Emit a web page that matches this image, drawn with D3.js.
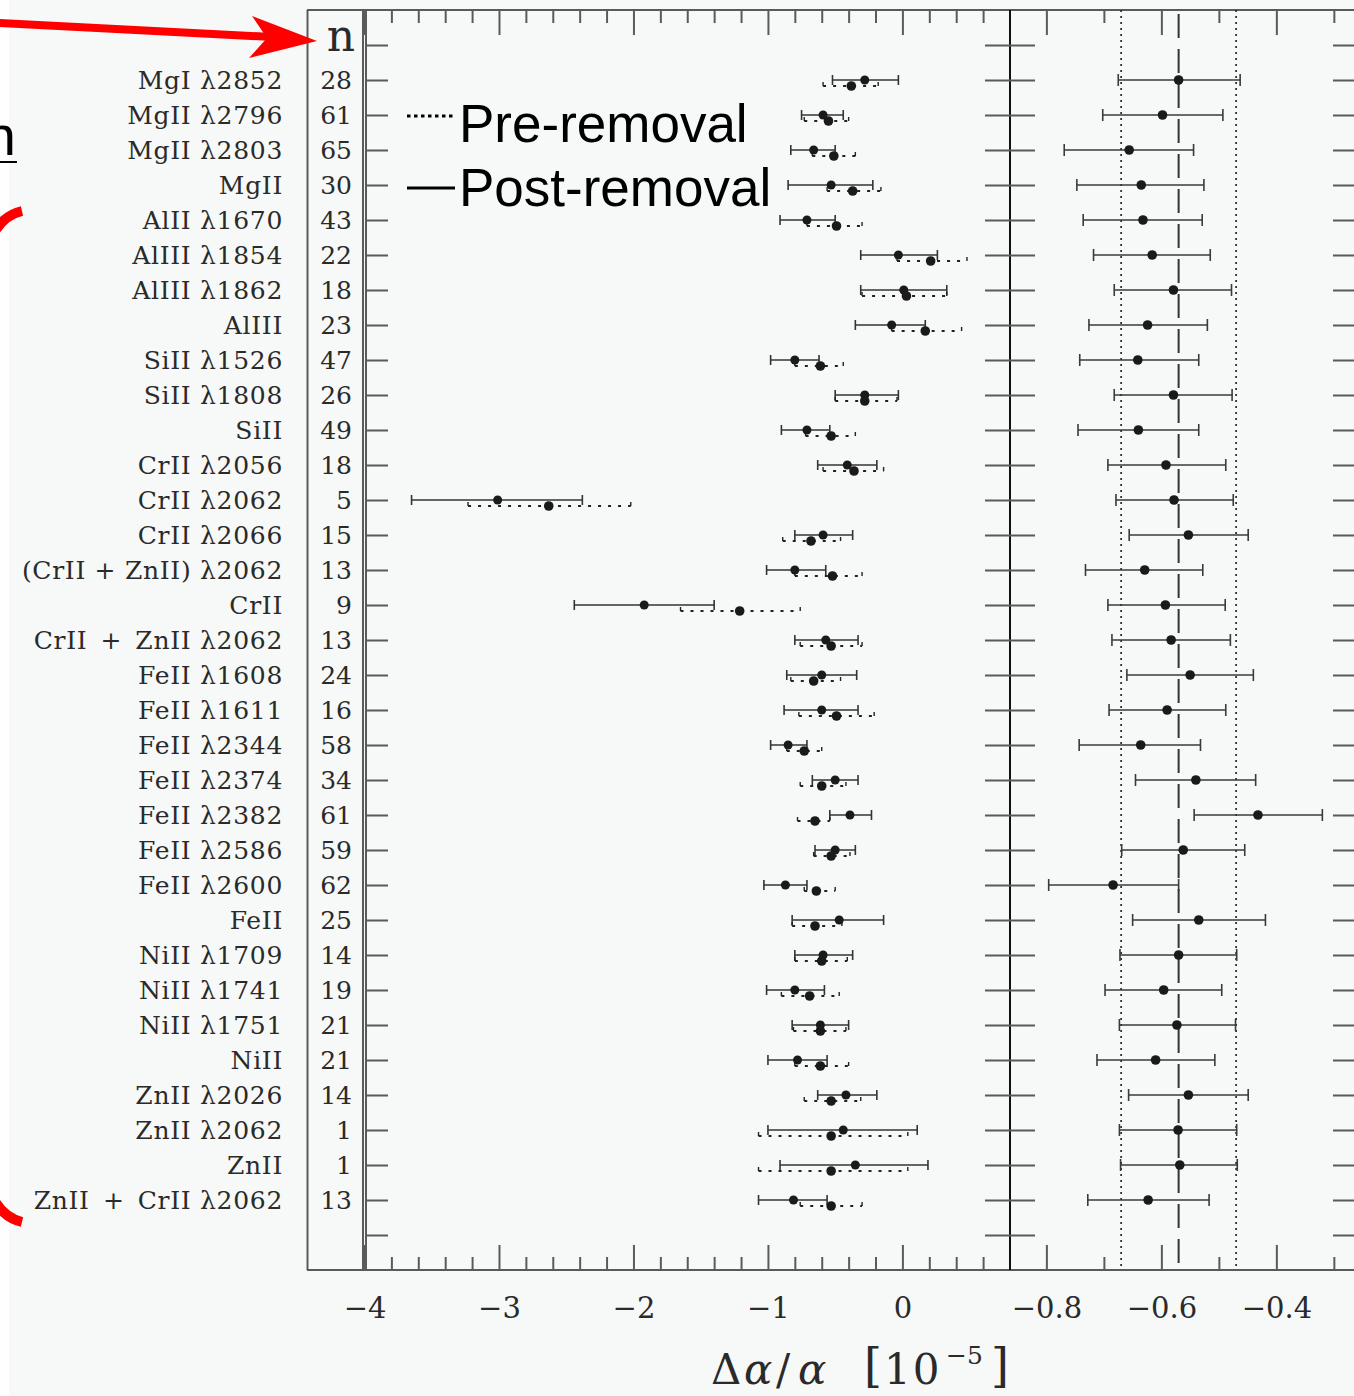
<!DOCTYPE html>
<html>
<head>
<meta charset="utf-8">
<script src="https://cdn.jsdelivr.net/npm/d3@7"></script>
<style>
  html, body { margin: 0; padding: 0; background: #f6f9f7; }
  svg { display: block; }
</style>
</head>
<body>
<svg id="chart" width="1354" height="1396"></svg>
<script>
// ---- data -------------------------------------------------------------
const labels = [
  "MgI λ2852", "MgII λ2796", "MgII λ2803", "MgII", "AlII λ1670",
  "AlIII λ1854", "AlIII λ1862", "AlIII", "SiII λ1526", "SiII λ1808",
  "SiII", "CrII λ2056", "CrII λ2062", "CrII λ2066", "(CrII + ZnII) λ2062",
  "CrII", "CrII\u2002+\u2002ZnII λ2062", "FeII λ1608", "FeII λ1611", "FeII λ2344",
  "FeII λ2374", "FeII λ2382", "FeII λ2586", "FeII λ2600", "FeII",
  "NiII λ1709", "NiII λ1741", "NiII λ1751", "NiII", "ZnII λ2026",
  "ZnII λ2062", "ZnII", "ZnII\u2002+\u2002CrII λ2062"
];
const counts = [28, 61, 65, 30, 43, 22, 18, 23, 47, 26, 49, 18, 5, 15, 13, 9, 13,
                24, 16, 58, 34, 61, 59, 62, 25, 14, 19, 21, 21, 14, 1, 1, 13];

// left panel, post-removal (solid)
const postMean = [-0.28, -0.59, -0.66, -0.53, -0.71, -0.03, 0.01, -0.08, -0.80, -0.28, -0.71,
                  -0.41, -3.01, -0.59, -0.80, -1.92, -0.57, -0.60, -0.60, -0.85, -0.50, -0.39,
                  -0.50, -0.87, -0.47, -0.59, -0.80, -0.61, -0.78, -0.42, -0.44, -0.35, -0.81];
const postLo   = [-0.52, -0.75, -0.83, -0.85, -0.91, -0.31, -0.31, -0.35, -0.98, -0.50, -0.90,
                  -0.63, -3.65, -0.80, -1.01, -2.44, -0.80, -0.86, -0.88, -0.98, -0.67, -0.54,
                  -0.65, -1.03, -0.82, -0.80, -1.01, -0.82, -1.00, -0.63, -1.00, -0.91, -1.07];
const postHi   = [-0.03, -0.44, -0.50, -0.22, -0.50, 0.26, 0.33, 0.17, -0.62, -0.03, -0.54,
                  -0.19, -2.38, -0.37, -0.57, -1.40, -0.33, -0.34, -0.33, -0.71, -0.33, -0.23,
                  -0.35, -0.71, -0.14, -0.37, -0.58, -0.40, -0.56, -0.19, 0.11, 0.19, -0.56];

// left panel, pre-removal (dotted)
const preMean = [-0.38, -0.55, -0.51, -0.37, -0.49, 0.21, 0.03, 0.17, -0.61, -0.28, -0.53,
                 -0.36, -2.63, -0.68, -0.52, -1.21, -0.53, -0.66, -0.49, -0.73, -0.60, -0.65,
                 -0.53, -0.64, -0.65, -0.60, -0.69, -0.61, -0.61, -0.53, -0.53, -0.53, -0.53];
const preLo   = [-0.59, -0.73, -0.67, -0.56, -0.71, -0.04, -0.30, -0.08, -0.80, -0.50, -0.72,
                 -0.59, -3.23, -0.89, -0.80, -1.65, -0.76, -0.83, -0.77, -0.86, -0.76, -0.78,
                 -0.66, -0.73, -0.82, -0.80, -0.90, -0.81, -0.80, -0.73, -1.07, -1.07, -0.76];
const preHi   = [-0.18, -0.40, -0.35, -0.16, -0.30, 0.48, 0.33, 0.44, -0.44, -0.04, -0.35,
                 -0.14, -2.02, -0.46, -0.30, -0.76, -0.30, -0.46, -0.21, -0.60, -0.42, -0.54,
                 -0.39, -0.50, -0.45, -0.41, -0.47, -0.42, -0.40, -0.31, 0.04, 0.04, -0.30];

// right panel
const rightMean = [-0.570, -0.598, -0.656, -0.635, -0.632, -0.616, -0.579, -0.624, -0.641, -0.579, -0.640,
                   -0.592, -0.578, -0.553, -0.629, -0.593, -0.583, -0.550, -0.590, -0.636, -0.540, -0.432,
                   -0.562, -0.684, -0.535, -0.570, -0.596, -0.573, -0.610, -0.553, -0.571, -0.568, -0.623];
const rightLo   = [-0.675, -0.702, -0.769, -0.747, -0.736, -0.718, -0.682, -0.726, -0.742, -0.682, -0.745,
                   -0.693, -0.679, -0.656, -0.732, -0.693, -0.686, -0.660, -0.691, -0.743, -0.645, -0.543,
                   -0.669, -0.796, -0.650, -0.672, -0.698, -0.673, -0.712, -0.657, -0.673, -0.671, -0.728];
const rightHi   = [-0.463, -0.493, -0.544, -0.526, -0.529, -0.515, -0.478, -0.520, -0.535, -0.477, -0.535,
                   -0.488, -0.475, -0.449, -0.528, -0.489, -0.480, -0.440, -0.488, -0.532, -0.436, -0.320,
                   -0.455, -0.570, -0.419, -0.469, -0.495, -0.471, -0.507, -0.449, -0.469, -0.468, -0.517];
const rightCentre = -0.570;
const rightBand = [-0.670, -0.470];

const leftTicks = [-4, -3, -2, -1, 0];
const rightTicks = [-0.8, -0.6, -0.4];

// ---- layout -----------------------------------------------------------
const W = 1354, H = 1396;
const svg = d3.select("#chart");
svg.append("rect").attr("width", W).attr("height", H).attr("fill", "#f6f9f7");
svg.append("rect").attr("width", 9).attr("height", H).attr("fill", "#fdfefd");

const TOP = 10, BOTTOM = 1270;
const y = d3.scaleLinear().domain([-1, 35]).range([TOP, BOTTOM]);
const xL = d3.scaleLinear().domain([-4, 0.8]).range([364.5, 1010]);
const xR = d3.scaleLinear().domain([-0.8633, -0.258]).range([1010, 1358]);

const frameCol = "#5a5a5a";
const serif = "DejaVu Serif";

// ---- frame ------------------------------------------------------------
const frame = svg.append("g").attr("stroke", frameCol).attr("stroke-width", 2).attr("fill", "none");
frame.append("line").attr("x1", 307).attr("x2", W).attr("y1", TOP).attr("y2", TOP);
frame.append("line").attr("x1", 307).attr("x2", W).attr("y1", BOTTOM).attr("y2", BOTTOM);
frame.append("line").attr("x1", 307.5).attr("x2", 307.5).attr("y1", TOP).attr("y2", BOTTOM);
frame.append("line").attr("x1", 363).attr("x2", 363).attr("y1", TOP).attr("y2", BOTTOM);
frame.append("line").attr("x1", 366).attr("x2", 366).attr("y1", TOP).attr("y2", BOTTOM);
svg.append("line").attr("x1", 1010).attr("x2", 1010).attr("y1", TOP).attr("y2", BOTTOM)
  .attr("stroke", "#111").attr("stroke-width", 2);

// ---- x axes -----------------------------------------------------------
function styleAxis(g) {
  g.select(".domain").remove();
  g.selectAll(".tick line").attr("stroke", frameCol).attr("stroke-width", 2);
  g.selectAll(".tick text").attr("fill", "#2a2a2a").attr("font-family", serif).attr("font-size", 29);
}
const leftMinor = d3.range(-3.8, 0.8, 0.2).map(v => +v.toFixed(1)).filter(v => !leftTicks.includes(v));
const rightMinor = [-0.7, -0.5, -0.3];

// top
svg.append("g").attr("transform", `translate(0,${TOP})`)
  .call(d3.axisTop(xL).tickValues(leftTicks).tickSize(-25).tickFormat("")).call(styleAxis);
svg.append("g").attr("transform", `translate(0,${TOP})`)
  .call(d3.axisTop(xL).tickValues(leftMinor).tickSize(-13).tickFormat("")).call(styleAxis);
svg.append("g").attr("transform", `translate(0,${TOP})`)
  .call(d3.axisTop(xR).tickValues(rightTicks).tickSize(-25).tickFormat("")).call(styleAxis);
svg.append("g").attr("transform", `translate(0,${TOP})`)
  .call(d3.axisTop(xR).tickValues(rightMinor).tickSize(-13).tickFormat("")).call(styleAxis);
// bottom
svg.append("g").attr("transform", `translate(0,${BOTTOM})`)
  .call(d3.axisBottom(xL).tickValues(leftTicks).tickSize(-25).tickPadding(27).tickFormat(d3.format("d"))).call(styleAxis);
svg.append("g").attr("transform", `translate(0,${BOTTOM})`)
  .call(d3.axisBottom(xL).tickValues(leftMinor).tickSize(-13).tickFormat("")).call(styleAxis);
svg.append("g").attr("transform", `translate(0,${BOTTOM})`)
  .call(d3.axisBottom(xR).tickValues(rightTicks).tickSize(-25).tickPadding(27).tickFormat(d3.format(".1f"))).call(styleAxis);
svg.append("g").attr("transform", `translate(0,${BOTTOM})`)
  .call(d3.axisBottom(xR).tickValues(rightMinor).tickSize(-13).tickFormat("")).call(styleAxis);

// ---- y ticks on panel edges -------------------------------------------
const rowTicks = d3.range(0, 35);
svg.append("g").attr("transform", "translate(366,0)")
  .call(d3.axisRight(y).tickValues(rowTicks).tickSize(22).tickFormat("")).call(styleAxis);
svg.append("g").attr("transform", "translate(1010,0)")
  .call(d3.axisLeft(y).tickValues(rowTicks).tickSize(25).tickFormat("")).call(styleAxis);
svg.append("g").attr("transform", "translate(1010,0)")
  .call(d3.axisRight(y).tickValues(rowTicks).tickSize(25).tickFormat("")).call(styleAxis);
svg.append("g").attr("transform", "translate(1358,0)")
  .call(d3.axisLeft(y).tickValues(rowTicks).tickSize(25).tickFormat("")).call(styleAxis);

// ---- row labels and counts --------------------------------------------
const idx = d3.range(labels.length);
svg.append("g").selectAll("text").data(idx).join("text")
  .attr("x", 283).attr("y", i => y(i + 1) + 9)
  .attr("text-anchor", "end").attr("font-family", serif).attr("font-size", 25)
  .attr("letter-spacing", 0.7).attr("fill", "#2a2a2a").style("white-space", "pre")
  .text(i => labels[i]);
svg.append("g").selectAll("text").data(idx).join("text")
  .attr("x", 352).attr("y", i => y(i + 1) + 9)
  .attr("text-anchor", "end").attr("font-family", serif).attr("font-size", 25)
  .attr("fill", "#2a2a2a").text(i => counts[i]);
svg.append("text").attr("x", 355).attr("y", y(0) + 6)
  .attr("text-anchor", "end").attr("font-family", serif).attr("font-size", 44)
  .attr("fill", "#2a2a2a").text("n");

// ---- left panel: error bars --------------------------------------------
const cap = 5;
const gPost = svg.append("g").attr("stroke", "#333").attr("stroke-width", 1.6);
idx.forEach(i => {
  const yy = y(i + 1);
  gPost.append("line").attr("x1", xL(postLo[i])).attr("x2", xL(postHi[i])).attr("y1", yy).attr("y2", yy);
  gPost.append("line").attr("x1", xL(postLo[i])).attr("x2", xL(postLo[i])).attr("y1", yy - cap).attr("y2", yy + cap);
  gPost.append("line").attr("x1", xL(postHi[i])).attr("x2", xL(postHi[i])).attr("y1", yy - cap).attr("y2", yy + cap);
});
const preOff = 6;
const gPre = svg.append("g").attr("stroke", "#222").attr("stroke-width", 2);
idx.forEach(i => {
  const yy = y(i + 1) + preOff;
  gPre.append("line").attr("x1", xL(preLo[i])).attr("x2", xL(preHi[i])).attr("y1", yy).attr("y2", yy)
    .attr("stroke-dasharray", "3,7");
  gPre.append("line").attr("x1", xL(preLo[i])).attr("x2", xL(preLo[i])).attr("y1", yy - 4).attr("y2", yy)
    .attr("stroke-width", 1.4);
  gPre.append("line").attr("x1", xL(preHi[i])).attr("x2", xL(preHi[i])).attr("y1", yy - 4).attr("y2", yy)
    .attr("stroke-width", 1.4);
});
svg.append("g").selectAll("circle").data(idx).join("circle")
  .attr("cx", i => xL(preMean[i])).attr("cy", i => y(i + 1) + preOff).attr("r", 4.8).attr("fill", "#1a1a1a");
svg.append("g").selectAll("circle").data(idx).join("circle")
  .attr("cx", i => xL(postMean[i])).attr("cy", i => y(i + 1)).attr("r", 4.5).attr("fill", "#1a1a1a");

// ---- right panel ------------------------------------------------------
svg.append("line").attr("x1", xR(rightCentre)).attr("x2", xR(rightCentre)).attr("y1", TOP).attr("y2", BOTTOM)
  .attr("stroke", "#333").attr("stroke-width", 2).attr("stroke-dasharray", "24,11").attr("stroke-dashoffset", -4);
rightBand.forEach(v => {
  svg.append("line").attr("x1", xR(v)).attr("x2", xR(v)).attr("y1", TOP).attr("y2", BOTTOM)
    .attr("stroke", "#333").attr("stroke-width", 1.8).attr("stroke-dasharray", "2,4");
});
const gR = svg.append("g").attr("stroke", "#3a3a3a").attr("stroke-width", 1.6);
idx.forEach(i => {
  const yy = y(i + 1);
  gR.append("line").attr("x1", xR(rightLo[i])).attr("x2", xR(rightHi[i])).attr("y1", yy).attr("y2", yy);
  gR.append("line").attr("x1", xR(rightLo[i])).attr("x2", xR(rightLo[i])).attr("y1", yy - 6).attr("y2", yy + 6);
  gR.append("line").attr("x1", xR(rightHi[i])).attr("x2", xR(rightHi[i])).attr("y1", yy - 6).attr("y2", yy + 6);
});
svg.append("g").selectAll("circle").data(idx).join("circle")
  .attr("cx", i => xR(rightMean[i])).attr("cy", i => y(i + 1)).attr("r", 4.8).attr("fill", "#1a1a1a");

// ---- legend -----------------------------------------------------------
svg.append("line").attr("x1", 407).attr("x2", 455).attr("y1", 116).attr("y2", 116)
  .attr("stroke", "#000").attr("stroke-width", 3).attr("stroke-dasharray", "3.5,3.5");
svg.append("line").attr("x1", 407).attr("x2", 455).attr("y1", 188).attr("y2", 188)
  .attr("stroke", "#000").attr("stroke-width", 3);
svg.append("text").attr("x", 459).attr("y", 142).attr("font-family", "Liberation Sans")
  .attr("font-size", 53).attr("fill", "#000").text("Pre-removal");
svg.append("text").attr("x", 459).attr("y", 206).attr("font-family", "Liberation Sans")
  .attr("font-size", 53).attr("fill", "#000").text("Post-removal");

// ---- axis title: Δα/α [10^-5] -----------------------------------------
const title = svg.append("text").attr("y", 1384).attr("font-family", serif).attr("fill", "#2a2a2a")
  .attr("font-size", 42);
title.append("tspan").attr("x", 711).text("Δ");
title.append("tspan").attr("x", 744).attr("font-style", "italic").text("α");
title.append("tspan").attr("x", 776).text("/");
title.append("tspan").attr("x", 798).attr("font-style", "italic").text("α");
title.append("tspan").attr("x", 864).attr("font-size", 46).attr("dy", -2).text("[");
title.append("tspan").attr("x", 884).attr("dy", 2).attr("letter-spacing", 2).text("10");
title.append("tspan").attr("x", 946).attr("dy", -20).attr("font-size", 25).text("−5");
title.append("tspan").attr("x", 991).attr("dy", 18).attr("font-size", 46).text("]");

// ---- red annotations --------------------------------------------------
const red = "#ff0000";
svg.append("line").attr("x1", -2).attr("y1", 23).attr("x2", 272).attr("y2", 37)
  .attr("stroke", red).attr("stroke-width", 8);
svg.append("polygon").attr("points", "317,41 252,16 267,38 249,58").attr("fill", red);
svg.append("path").attr("d", "M 22 211 Q -4 217 -14 252 L -14 1180 Q -4 1216 22 1222")
  .attr("fill", "none").attr("stroke", red).attr("stroke-width", 10);

svg.append("text").attr("x", 16).attr("y", 155).attr("text-anchor", "end")
  .attr("font-family", "Liberation Sans").attr("font-size", 56).attr("fill", "#000").text("n");
svg.append("line").attr("x1", 0).attr("x2", 17).attr("y1", 162).attr("y2", 162)
  .attr("stroke", "#000").attr("stroke-width", 2);
</script>
</body>
</html>
